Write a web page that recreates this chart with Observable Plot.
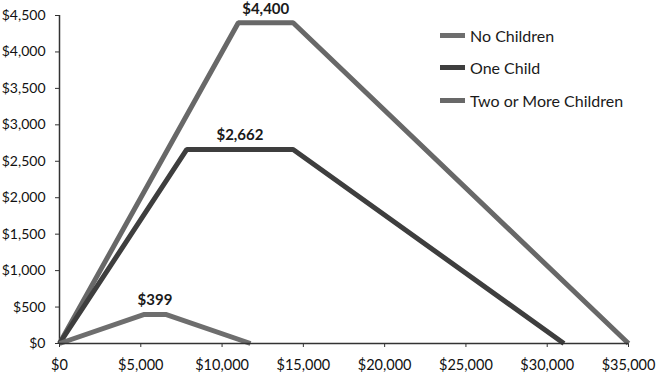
<!DOCTYPE html>
<html>
<head>
<meta charset="utf-8">
<script src="https://cdn.jsdelivr.net/npm/d3@7"></script>
<script src="https://cdn.jsdelivr.net/npm/@observablehq/plot@0.6"></script>
<style>
  html, body { margin: 0; padding: 0; background: #fff; }
  #wrap { position: relative; width: 656px; height: 376px; font-family: Lato, "DejaVu Sans", sans-serif; }
  #legend { position: absolute; left: 440px; top: 19px; font-size: 16px; color: #1a1a1a; }
  #legend .row { display: flex; align-items: center; height: 32.5px; }
  #legend .sw { width: 25px; height: 5px; margin-right: 5px; }
</style>
</head>
<body>
<div id="wrap"><div id="legend"></div></div>
<script>
// Series names and colours
const seriesNames = ["No Children", "One Child", "Two or More Children"];
const seriesColors = ["#6e6e6e", "#3e3e3e", "#686868"];

// Earned income (x) and credit (y) for each series
const noChildrenIncome = [0, 5220, 6530, 11750];
const noChildrenCredit = [0, 399, 399, 0];
const oneChildIncome = [0, 7830, 14370, 31030];
const oneChildCredit = [0, 2662, 2662, 0];
const twoChildrenIncome = [0, 11000, 14370, 35000];
const twoChildrenCredit = [0, 4400, 4400, 0];

// Tick values
const xTicks = [0, 5000, 10000, 15000, 20000, 25000, 30000, 35000];
const yTicks = [0, 500, 1000, 1500, 2000, 2500, 3000, 3500, 4000, 4500];

const incomes = [noChildrenIncome, oneChildIncome, twoChildrenIncome];
const credits = [noChildrenCredit, oneChildCredit, twoChildrenCredit];

const rows = [];
seriesNames.forEach((s, i) => {
  incomes[i].forEach((x, j) => rows.push({series: s, x, y: credits[i][j]}));
});
// Peak labels placed over the plateau midpoint
const peaks = seriesNames.map((s, i) => ({
  series: s,
  x: (incomes[i][1] + incomes[i][2]) / 2,
  y: credits[i][1]
}));

const money = d3.format("$,");
const drawOrder = ["Two or More Children", "One Child", "No Children"];

const chart = Plot.plot({
  width: 656,
  height: 376,
  marginLeft: 59,
  marginRight: 28,
  marginTop: 15,
  marginBottom: 33,
  style: {fontFamily: "Lato, 'DejaVu Sans', sans-serif", fontSize: "14px", color: "#111", background: "#fff"},
  x: {domain: [0, 35000]},
  y: {domain: [0, 4500]},
  color: {domain: seriesNames, range: seriesColors},
  marks: [
    Plot.axisY({ticks: yTicks, tickFormat: money, tickSize: 4, tickPadding: 10, label: null, stroke: "#333", fontSize: 14}),
    Plot.axisX({ticks: xTicks, tickFormat: money, tickSize: 4, tickPadding: 12, label: null, stroke: "#333", fontSize: 14.5}),
    Plot.ruleX([0], {stroke: "#333", strokeWidth: 1.5}),
    ...drawOrder.map(s => Plot.line(rows.filter(d => d.series === s), {
      x: "x", y: "y", stroke: "series", strokeWidth: 5,
      strokeLinejoin: "miter", strokeLinecap: "butt"
    })),
    Plot.ruleY([0], {stroke: "#333", strokeWidth: 1.5}),
    Plot.text(peaks, {x: "x", y: "y", text: d => money(d.y), dy: -14,
      fontWeight: "bold", fontSize: 15, fill: "#1a1a1a"})
  ]
});
document.getElementById("wrap").prepend(chart);

const legend = document.getElementById("legend");
seriesNames.forEach((s, i) => {
  const row = document.createElement("div");
  row.className = "row";
  row.innerHTML = `<div class="sw" style="background:${seriesColors[i]}"></div><span>${s}</span>`;
  legend.appendChild(row);
});
</script>
</body>
</html>
